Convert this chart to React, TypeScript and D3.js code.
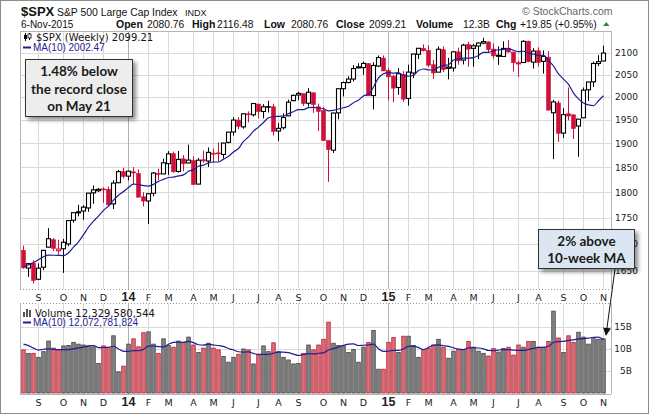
import React from 'react';
import * as d3 from 'd3';

const width = 650;
const height = 415;

// weekly bars, Friday of each week
const firstWeek = new Date(2013, 7, 16);
const lastWeek = new Date(2015, 10, 6);

const opens = [
  1688.0, 1655.3, 1664.3, 1635.0, 1656.9, 1694.0, 1708.0, 1687.3, 1691.0, 1700.0,
  1745.2, 1759.4, 1763.0, 1769.0, 1798.8, 1803.0, 1806.6, 1806.0, 1777.0, 1819.0,
  1841.3, 1832.3, 1841.1, 1837.8, 1791.0, 1782.7, 1798.0, 1838.0, 1836.8, 1857.7,
  1878.3, 1841.8, 1867.7, 1859.2, 1863.9, 1816.3, 1865.8, 1863.2, 1879.4, 1880.0,
  1876.7, 1902.0, 1923.9, 1949.4, 1934.8, 1962.9, 1960.8, 1984.2, 1968.0, 1979.0,
  1978.3, 1926.0, 1933.0, 1958.4, 1991.7, 2004.1, 2007.2, 1986.0, 2009.1, 1978.0,
  1970.0, 1905.7, 1885.6, 1965.0, 2018.2, 2032.0, 2039.7, 2065.1, 2065.8, 2074.8,
  2002.9, 2069.3, 2087.6, 2058.9, 2046.1, 2020.8, 2050.4, 1996.7, 2053.5, 2096.5,
  2109.8, 2105.2, 2072.3, 2055.4, 2107.0, 2064.1, 2064.9, 2102.0, 2083.0, 2119.3,
  2110.2, 2115.6, 2122.3, 2125.3, 2108.6, 2092.3, 2091.3, 2110.6, 2101.5, 2075.0,
  2077.4, 2126.8, 2078.2, 2104.5, 2080.0, 2089.7, 1965.2, 1986.7, 1921.5, 1963.1,
  1960.8, 1936.6, 1954.3, 2015.7, 2033.5, 2075.1, 2080.8
];

const highs = [
  1696.8, 1664.9, 1669.5, 1664.0, 1689.0, 1729.9, 1711.0, 1708.0, 1709.5, 1745.3,
  1759.8, 1775.2, 1774.5, 1798.2, 1813.6, 1808.4, 1810.0, 1811.5, 1823.8, 1844.9,
  1849.4, 1843.2, 1850.8, 1846.0, 1799.9, 1798.0, 1840.8, 1847.5, 1867.9, 1883.6,
  1882.4, 1883.9, 1875.3, 1897.3, 1872.5, 1869.6, 1884.9, 1891.3, 1889.1, 1902.2,
  1901.3, 1924.0, 1955.6, 1955.6, 1963.9, 1968.2, 1985.6, 1984.2, 1983.9, 1991.4,
  1984.9, 1942.9, 1964.0, 1994.0, 2005.0, 2011.2, 2007.2, 2019.3, 2009.1, 1985.2,
  1977.6, 1906.0, 1965.3, 2018.2, 2034.3, 2046.2, 2071.5, 2075.8, 2079.5, 2075.8,
  2077.9, 2093.6, 2093.6, 2064.4, 2049.3, 2064.6, 2057.6, 2072.4, 2097.0, 2110.6,
  2119.6, 2117.5, 2083.5, 2114.9, 2114.9, 2088.2, 2102.6, 2111.9, 2120.9, 2125.9,
  2120.9, 2123.9, 2134.7, 2126.2, 2121.9, 2115.0, 2126.7, 2129.9, 2101.5, 2082.0,
  2129.0, 2128.1, 2110.6, 2112.7, 2105.4, 2103.5, 1993.5, 1992.0, 1975.0, 2020.9,
  1961.0, 1951.4, 2020.9, 2033.5, 2079.7, 2094.3, 2116.5
];

const lows = [
  1654.2, 1639.4, 1627.5, 1633.4, 1651.4, 1693.5, 1687.1, 1680.0, 1646.5, 1696.0,
  1740.5, 1752.7, 1746.2, 1761.6, 1777.2, 1800.8, 1779.1, 1772.3, 1767.0, 1819.0,
  1827.7, 1823.7, 1815.8, 1790.0, 1772.0, 1737.9, 1792.0, 1824.6, 1836.8, 1834.4,
  1839.6, 1839.5, 1842.1, 1858.5, 1814.4, 1815.8, 1859.7, 1851.0, 1859.8, 1862.4,
  1868.1, 1899.9, 1916.0, 1929.6, 1930.9, 1944.7, 1956.9, 1952.9, 1952.9, 1965.8,
  1916.4, 1904.8, 1928.9, 1958.4, 1990.5, 1992.4, 1980.3, 1978.5, 1965.0, 1926.0,
  1906.1, 1820.7, 1880.0, 1951.0, 2001.0, 2030.0, 2034.4, 2064.0, 2049.6, 2002.3,
  1972.6, 2066.9, 2057.9, 1992.4, 1988.1, 2004.5, 1989.2, 1980.9, 2041.9, 2085.4,
  2103.0, 2067.3, 2039.7, 2055.4, 2055.4, 2039.1, 2056.8, 2072.4, 2073.0, 2067.9,
  2067.9, 2085.0, 2119.6, 2099.2, 2085.7, 2072.1, 2091.3, 2101.1, 2056.2, 2044.0,
  2077.4, 2077.9, 2063.5, 2067.9, 2052.1, 1970.9, 1867.0, 1903.1, 1911.0, 1948.6,
  1908.9, 1872.0, 1954.3, 1990.7, 2021.9, 2069.3, 2080.8
];

const closes = [
  1655.8, 1663.5, 1633.0, 1655.2, 1688.0, 1709.9, 1691.8, 1690.5, 1703.2, 1744.5,
  1759.8, 1761.6, 1770.6, 1798.2, 1804.8, 1805.8, 1805.1, 1775.3, 1818.3, 1841.4,
  1832.0, 1842.4, 1838.7, 1790.3, 1782.6, 1797.0, 1838.6, 1836.3, 1859.5, 1878.0,
  1841.1, 1866.5, 1857.6, 1865.1, 1815.7, 1864.9, 1863.4, 1881.1, 1878.5, 1877.9,
  1900.5, 1923.6, 1949.4, 1936.2, 1962.9, 1961.0, 1985.4, 1967.6, 1978.2, 1978.3,
  1925.2, 1931.6, 1955.1, 1988.4, 2003.4, 2007.7, 1985.5, 2010.4, 1982.9, 1967.9,
  1906.1, 1886.8, 1964.6, 2018.1, 2031.9, 2039.8, 2063.5, 2067.6, 2075.4, 2002.3,
  2070.7, 2088.8, 2058.2, 2044.8, 2019.4, 2051.8, 1995.0, 2055.5, 2097.0, 2110.3,
  2104.5, 2071.3, 2053.4, 2108.1, 2061.0, 2067.0, 2102.1, 2081.2, 2117.7, 2108.3,
  2116.1, 2122.7, 2126.1, 2107.4, 2092.8, 2094.1, 2110.0, 2101.5, 2076.8, 2076.6,
  2126.6, 2079.7, 2103.8, 2077.6, 2091.5, 1970.9, 1988.9, 1921.2, 1961.1, 1958.1,
  1931.3, 1951.4, 2014.9, 2033.1, 2075.2, 2079.4, 2099.2
];

// weekly volume, billions of shares
const volumes = [
  9.8, 9.0, 9.0, 8.1, 9.4, 11.8, 10.2, 9.8, 10.7, 10.8,
  11.5, 11.1, 10.9, 10.7, 10.5, 6.7, 10.7, 10.3, 13.0, 4.8,
  6.1, 11.1, 12.3, 10.5, 13.7, 13.9, 11.1, 9.0, 12.3, 10.8,
  10.4, 11.8, 11.5, 12.7, 10.9, 9.2, 10.2, 11.3, 10.2, 9.8,
  8.3, 7.0, 8.1, 8.8, 10.0, 9.8, 6.6, 8.8, 10.7, 9.4,
  11.4, 9.4, 8.1, 7.5, 6.6, 6.7, 9.0, 10.9, 9.8, 10.9,
  12.2, 16.1, 11.3, 10.8, 10.7, 9.2, 9.9, 7.0, 10.4, 11.5,
  14.2, 5.4, 5.4, 11.5, 12.6, 9.2, 12.9, 12.9, 10.8, 8.1,
  9.9, 10.1, 10.9, 12.2, 10.4, 7.9, 9.5, 9.9, 9.9, 11.7,
  10.4, 9.5, 9.0, 8.4, 10.1, 9.3, 10.1, 10.4, 8.6, 10.9,
  10.4, 11.7, 11.7, 10.4, 10.4, 11.7, 18.6, 12.5, 9.2, 13.0,
  11.5, 13.8, 12.7, 11.1, 12.6, 12.2, 12.3
];

// the nine weeks before the first bar, needed for the 10-week averages
const priorCloses = [1626.7, 1592.4, 1606.3, 1631.9, 1680.2, 1692.1, 1691.7, 1709.7, 1691.4];
const priorVolumes = [12.4, 14.6, 12.6, 7.4, 10.8, 11.4, 10.5, 10.6, 10.9];

const priceTicks = [1650, 1700, 1750, 1800, 1850, 1900, 1950, 2000, 2050, 2100];
const volumeTicks = [5, 10, 15];
const monthLetters = ['J', 'F', 'M', 'A', 'M', 'J', 'J', 'A', 'S', 'O', 'N', 'D'];

const plot = { left: 20, right: 611, top: 31, bottom: 289, volTop: 303, volBottom: 394 };
const red = '#d0103a';
const navy = '#1d1d96';

const movingAvg = (all, n) => d3.range(all.length - n + 1).map(i => d3.mean(all.slice(i, i + n)));

const App = () => {
  const weeks = d3.timeFriday.range(firstWeek, d3.timeDay.offset(lastWeek, 1));

  const x = d3.scaleLinear().domain([0, weeks.length - 1]).range([23.5, 603.5]);
  const y = d3.scaleLog().domain([1617.5, 2151]).range([plot.bottom, plot.top]);
  const yv = d3.scaleLinear().domain([0, 20]).range([393, 305]);

  const priceMA = movingAvg(priorCloses.concat(closes), 10);
  const volMA = movingAvg(priorVolumes.concat(volumes), 10);

  // month ticks: first week whose Monday falls in a new month
  const ticks = [];
  weeks.forEach((w, i) => {
    if (i === 0) return;
    const m = d3.timeDay.offset(w, -4);
    const pm = d3.timeDay.offset(weeks[i - 1], -4);
    if (m.getMonth() !== pm.getMonth()) {
      ticks.push({
        i,
        year: m.getMonth() === 0,
        label: m.getMonth() === 0 ? String(m.getFullYear() % 100) : monthLetters[m.getMonth()]
      });
    }
  });

  const candles = closes.map((c, i) => {
    const prev = i === 0 ? priorCloses[priorCloses.length - 1] : closes[i - 1];
    return { i, o: opens[i], h: highs[i], l: lows[i], c, up: c >= prev, hollow: c >= opens[i] };
  });

  const maLine = d3.line().x((d, i) => x(i)).y(d => y(d)).curve(d3.curveMonotoneX);
  const volLine = d3.line().x((d, i) => x(i)).y(d => yv(d)).curve(d3.curveMonotoneX);

  const sans = 'Liberation Sans, Arial, sans-serif';
  const verd = 'DejaVu Sans, Verdana, sans-serif';
  const callout = 'Lato, Carlito, sans-serif';

  const axisLabels = (yPos) => ticks.map(t => (
    <text
      key={'l' + yPos + t.i}
      x={x(t.i)}
      y={yPos}
      textAnchor="middle"
      fontFamily={t.year ? sans : verd}
      fontWeight={t.year ? 'bold' : 'normal'}
      fontSize={t.year ? 12.5 : 9.5}
      fill="#222"
    >
      {t.label}
    </text>
  ));

  return (
    <div style={{ position: 'absolute', left: 0, top: 0 }}>
      <svg width={width} height={height} style={{ display: 'block', background: '#fff' }}>
        <defs>
          <filter id="shadow" x="-20%" y="-20%" width="150%" height="170%">
            <feDropShadow dx="3" dy="3" stdDeviation="2" floodColor="#000" floodOpacity="0.45" />
          </filter>
          <marker id="arrowHead" viewBox="0 0 10 10" refX="9" refY="5" markerWidth="8" markerHeight="8" orient="auto">
            <path d="M0,0 L10,5 L0,10 z" fill="#111" />
          </marker>
          <clipPath id="priceClip">
            <rect x={plot.left} y={plot.top} width={plot.right - plot.left} height={plot.bottom - plot.top} />
          </clipPath>
        </defs>

        <rect x={0.5} y={0.5} width={648} height={413} fill="#fff" stroke="#8c8c8c" />

        {/* Header */}
        <text x={21} y={16} fontFamily={sans} fontWeight="bold" fontSize={13} fill="#111">$SPX</text>
        <text x={57} y={16} fontFamily={sans} fontSize={10.4} fill="#111">S&amp;P 500 Large Cap Index</text>
        <text x={185} y={16} fontFamily={sans} fontSize={9} fill="#111">INDX</text>
        <text x={522} y={15} fontFamily={sans} fontSize={10.5} fill="#666">© StockCharts.com</text>

        <g fontFamily={sans} fontSize={10.3} fill="#111">
          <text x={21} y={27.5} fontSize={10}>6-Nov-2015</text>
          <text x={116} y={27.5} fontWeight="bold" fontSize={10.5}>Open</text>
          <text x={147} y={27.5}>2080.76</text>
          <text x={192} y={27.5} fontWeight="bold" fontSize={10.5}>High</text>
          <text x={217} y={27.5}>2116.48</text>
          <text x={264} y={27.5} fontWeight="bold" fontSize={10.5}>Low</text>
          <text x={291} y={27.5}>2080.76</text>
          <text x={336} y={27.5} fontWeight="bold" fontSize={10.5}>Close</text>
          <text x={369} y={27.5}>2099.21</text>
          <text x={416} y={27.5} fontWeight="bold" fontSize={10.5}>Volume</text>
          <text x={463} y={27.5}>12.3B</text>
          <text x={496} y={27.5} fontWeight="bold" fontSize={10.5}>Chg</text>
          <text x={520} y={27.5}>+19.85 (+0.95%)</text>
        </g>
        <polygon points="603,26 609.5,26 606.25,22" fill="#2e8b2e" />

        {/* Price panel grid */}
        <g clipPath="url(#priceClip)">
          {priceTicks.map(t => (
            <line key={'pg' + t} x1={plot.left} x2={plot.right} y1={Math.round(y(t)) + 0.5} y2={Math.round(y(t)) + 0.5} stroke="#dadada" />
          ))}
          {ticks.map(t => (
            <line key={'pv' + t.i} x1={x(t.i)} x2={x(t.i)} y1={plot.top} y2={plot.bottom} stroke={t.year ? '#b0b0b0' : '#dadada'} />
          ))}
        </g>

        {/* Price axis labels */}
        {priceTicks.map(t => (
          <text key={'pl' + t} x={615} y={y(t) + 3.3} fontFamily={verd} fontSize={9} fill="#222">{t}</text>
        ))}

        {/* Candles */}
        <g clipPath="url(#priceClip)">
          {candles.map(d => {
            const col = d.up ? '#000' : red;
            const top = y(Math.max(d.o, d.c));
            const bot = y(Math.min(d.o, d.c));
            const cx = x(d.i);
            return (
              <g key={'c' + d.i}>
                <line x1={cx} x2={cx} y1={y(d.h)} y2={y(d.l)} stroke={col} strokeWidth={1} />
                <rect
                  x={cx - 2}
                  y={top}
                  width={4}
                  height={Math.max(1, bot - top)}
                  fill={d.hollow ? '#fff' : col}
                  stroke={col}
                  strokeWidth={d.hollow ? 1.1 : 0.6}
                />
              </g>
            );
          })}
          <path d={maLine(priceMA)} fill="none" stroke={navy} strokeWidth={1.2} />
        </g>

        {/* Price panel frame */}
        <line x1={plot.left + 0.5} x2={plot.left + 0.5} y1={plot.top} y2={plot.bottom} stroke="#b4b4b4" />
        <line x1={plot.right + 0.5} x2={plot.right + 0.5} y1={plot.top} y2={plot.bottom} stroke="#b4b4b4" />
        <line x1={plot.left} x2={plot.right} y1={plot.top + 0.5} y2={plot.top + 0.5} stroke="#b4b4b4" />
        <line x1={plot.left} x2={plot.right} y1={plot.bottom + 0.5} y2={plot.bottom + 0.5} stroke="#999" strokeDasharray="1 2" />

        {/* Price legend */}
        <g>
          <line x1={25.5} x2={25.5} y1={33} y2={41} stroke="#000" />
          <rect x={24} y={35} width={3} height={4} fill="#000" />
          <line x1={29.5} x2={29.5} y1={33} y2={40} stroke="#000" />
          <rect x={28} y={34} width={3} height={4} fill="#fff" stroke="#000" strokeWidth={0.8} />
          <text x={36} y={40.5} fontFamily={verd} fontSize={10} fill="#111">$SPX (Weekly) 2099.21</text>
          <line x1={23} x2={31} y1={47.5} y2={47.5} stroke={navy} strokeWidth={2} />
          <text x={33} y={51} fontFamily={sans} fontSize={10} fill={navy}>MA(10) 2002.47</text>
        </g>

        {/* Axis strip between panels */}
        {axisLabels(301)}
        <line x1={plot.left} x2={plot.right} y1={plot.volTop + 0.5} y2={plot.volTop + 0.5} stroke="#999" strokeDasharray="1 2" />

        {/* Volume panel */}
        {volumeTicks.map(t => (
          <line key={'vg' + t} x1={plot.left} x2={plot.right} y1={Math.round(yv(t)) + 0.5} y2={Math.round(yv(t)) + 0.5} stroke="#dadada" />
        ))}
        {ticks.map(t => (
          <line key={'vv' + t.i} x1={x(t.i)} x2={x(t.i)} y1={plot.volTop} y2={plot.volBottom} stroke={t.year ? '#b0b0b0' : '#dadada'} />
        ))}
        {volumes.map((v, i) => {
          const up = candles[i].up;
          return (
            <rect
              key={'v' + i}
              x={x(i) - 1.75}
              y={yv(v)}
              width={3.5}
              height={yv(0) - yv(v)}
              fill={up ? '#858585' : '#d6737d'}
              stroke={up ? '#4d4d4d' : '#c42a3c'}
              strokeWidth={0.9}
            />
          );
        })}
        <path d={volLine(volMA)} fill="none" stroke={navy} strokeWidth={1.2} />
        {volumeTicks.map(t => (
          <text key={'vl' + t} x={632} y={yv(t) + 3.3} textAnchor="end" fontFamily={verd} fontSize={9} fill="#222">{t}B</text>
        ))}
        <line x1={plot.left + 0.5} x2={plot.left + 0.5} y1={plot.volTop} y2={plot.volBottom} stroke="#b4b4b4" />
        <line x1={plot.right + 0.5} x2={plot.right + 0.5} y1={plot.volTop} y2={plot.volBottom} stroke="#b4b4b4" />
        <line x1={plot.left} x2={plot.right} y1={plot.volBottom + 0.5} y2={plot.volBottom + 0.5} stroke="#b4b4b4" />

        {/* Volume legend */}
        <g>
          <rect x={23} y={312} width={2} height={5} fill="#555" />
          <rect x={26} y={309} width={2} height={8} fill="#555" />
          <rect x={29} y={310} width={2} height={7} fill="#555" />
          <text x={35} y={316.5} fontFamily={verd} fontSize={10} fill="#111">Volume 12,329,580,544</text>
          <line x1={23} x2={31} y1={322.5} y2={322.5} stroke={navy} strokeWidth={2} />
          <text x={33} y={326} fontFamily={sans} fontSize={10} fill={navy}>MA(10) 12,072,781,824</text>
        </g>

        {axisLabels(406)}

        {/* Callouts */}
        <rect x={25.5} y={59.5} width={107} height={57} fill="#ededed" stroke="#333" filter="url(#shadow)" />
        <g fontFamily={callout} fontWeight="bold" fontSize={13.5} fill="#1a1a1a" textAnchor="middle">
          <text x={79} y={76}>1.48% below</text>
          <text x={79} y={93.5}>the record close</text>
          <text x={79} y={111}>on May 21</text>
        </g>

        <line x1={615} y1={269} x2={606} y2={335} stroke="#111" strokeWidth={1} markerEnd="url(#arrowHead)" />
        <rect x={538.5} y={229.5} width={96} height={39} fill="#dce6f2" stroke="#333" filter="url(#shadow)" />
        <g fontFamily={callout} fontWeight="bold" fontSize={13.5} fill="#1a1a1a" textAnchor="middle">
          <text x={586.5} y={246}>2% above</text>
          <text x={586.5} y={263}>10-week MA</text>
        </g>
      </svg>
    </div>
  );
};

export default App;
